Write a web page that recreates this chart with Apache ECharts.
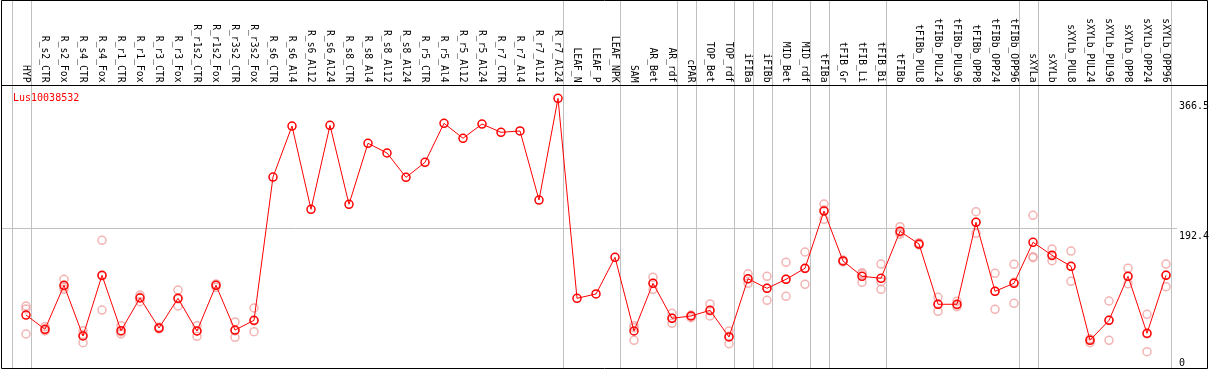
<!DOCTYPE html>
<html>
<head>
<meta charset="utf-8">
<script src="https://cdn.jsdelivr.net/npm/echarts@6/dist/echarts.min.js"></script>
<style>
html,body{margin:0;padding:0;background:#fff;}
#chart{width:1209px;height:370px;}
</style>
</head>
<body>
<div id="chart"></div>
<script>
const geneId = 'Lus10038532';
const categories = ['HYP','R_s2_CTR','R_s2_Fox','R_s4_CTR','R_s4_Fox','R_r1_CTR','R_r1_Fox','R_r3_CTR','R_r3_Fox','R_r1s2_CTR','R_r1s2_Fox','R_r3s2_CTR','R_r3s2_Fox','R_s6_CTR','R_s6_Al4','R_s6_Al12','R_s6_Al24','R_s8_CTR','R_s8_Al4','R_s8_Al12','R_s8_Al24','R_r5_CTR','R_r5_Al4','R_r5_Al12','R_r5_Al24','R_r7_CTR','R_r7_Al4','R_r7_Al12','R_r7_Al24','LEAF_N','LEAF_P','LEAF_NPK','SAM','AR_Bet','AR_rdf','cPAR','TOP_Bet','TOP_rdf','iFIBa','iFIBb','MID_Bet','MID_rdf','tFIBa','tFIB_Gr','tFIB_Li','tFIB_Bi','tFIBb','tFIBb_PUL8','tFIBb_PUL24','tFIBb_PUL96','tFIBb_OPP8','tFIBb_OPP24','tFIBb_OPP96','sXYLa','sXYLb','sXYLb_PUL8','sXYLb_PUL24','sXYLb_PUL96','sXYLb_OPP8','sXYLb_OPP24','sXYLb_OPP96'];

const meanValues = [76.3,57.2,116.1,48.2,129.5,55.3,99.1,58.9,98.7,54.9,116.1,56.2,69.2,261.1,329.4,217.9,330.4,224.6,306.3,293.3,260.7,280.8,333.1,313.0,332.1,321.0,322.8,230.3,366.5,98.7,104.5,153.6,54.9,118.8,71.9,75.0,82.6,46.9,124.9,112.1,124.1,138.9,215.6,148.7,128.2,125.5,188.4,171.4,90.7,90.7,200.5,108.1,118.8,173.7,156.3,141.6,42.5,69.2,128.2,51.8,129.5];

const rep1 = [88.4,60.7,124.1,55.3,176.4,62.0,103.1,60.3,109.8,62.0,117.9,67.0,85.7,null,null,null,null,null,null,null,null,null,null,null,null,null,null,null,null,null,null,null,62.0,126.8,78.6,72.7,91.1,54.9,131.6,128.2,146.9,160.7,225.0,150.0,133.0,144.6,194.6,173.2,100.0,94.7,214.7,132.2,144.2,209.9,164.7,162.0,39.2,95.1,138.9,77.3,144.6];
const rep2 = [84.4,56.2,110.8,39.2,83.0,50.9,94.1,57.6,88.4,47.8,113.4,46.5,54.0,null,null,null,null,null,null,null,null,null,null,null,null,null,null,null,null,null,null,null,42.5,110.8,65.2,76.3,75.0,37.9,118.8,96.0,101.4,117.5,204.5,147.3,120.1,120.9,184.4,170.8,81.3,87.5,185.7,84.0,92.0,154.4,149.1,121.5,44.6,42.5,118.3,27.2,114.2];
const rep3 = [50.9,54.9,113.8,50.2,128.6,53.6,100.4,58.9,97.8,54.9,116.5,54.9,68.3,null,null,null,null,null,null,null,null,null,null,null,null,null,null,null,null,null,null,null,59.3,118.8,72.3,75.0,81.7,47.8,124.5,112.1,124.1,138.3,217.0,148.7,131.2,110.8,186.6,170.1,91.1,89.7,200.9,108.1,120.1,153.1,155.4,141.3,42.5,69.6,127.9,50.9,129.9];

const yTickValues = [366.5, 192.4, 0];
const yTickLabels = ['366.5', '192.4', '0'];
const gridValue = 192.4;
// category indices after which a separator line is drawn (-1 = before the first)
const groupBreaks = [-1, 0, 28, 31, 34, 35, 37, 38, 39, 41, 42, 45, 52, 53, 60];

const MONO = '"DejaVu Sans Mono", "Liberation Mono", monospace';
const chart = echarts.init(document.getElementById('chart'), null, {renderer: 'canvas'});

const repStyle = {
  type: 'scatter', symbol: 'circle', symbolSize: 8, z: 2, silent: true,
  itemStyle: {color: 'rgba(0,0,0,0)', borderColor: '#f0a0a0', borderWidth: 1.5}
};

chart.setOption({
  animation: false,
  title: {
    text: geneId, left: 8, top: 88,
    textStyle: {color: '#ff0000', fontSize: 10, fontWeight: 'normal', fontFamily: MONO}
  },
  grid: {left: 16.5, right: 33.5, top: 85.5, bottom: 1.5, containLabel: false},
  xAxis: {
    type: 'category', data: categories, position: 'top', boundaryGap: true,
    axisLine: {show: false}, axisTick: {show: false}, splitLine: {show: false},
    axisLabel: {interval: 0, rotate: 90, margin: 3, color: '#000', fontSize: 9.7, fontFamily: MONO}
  },
  yAxis: {
    type: 'value', min: 4.69, max: 383.7,
    axisLine: {show: false}, axisTick: {show: false}, axisLabel: {show: false}, splitLine: {show: false}
  },
  series: [
    Object.assign({data: rep1}, repStyle),
    Object.assign({data: rep2}, repStyle),
    Object.assign({data: rep3}, repStyle),
    {
      type: 'line', data: meanValues, z: 5, symbol: 'circle', symbolSize: 8,
      lineStyle: {color: '#ff0000', width: 1},
      itemStyle: {color: 'rgba(0,0,0,0)', borderColor: '#ff0000', borderWidth: 1.5}
    }
  ]
});

function drawFrame() {
  const x0 = chart.convertToPixel({xAxisIndex: 0}, 0);
  const x1 = chart.convertToPixel({xAxisIndex: 0}, 1);
  const band = x1 - x0;
  const bottomY = 368.5, sepY = 85.5;
  const els = [];
  groupBreaks.forEach(function (i) {
    const x = Math.round(x0 + (i + 0.25) * band) + 0.5;
    els.push({type: 'line', z: 0, silent: true,
      shape: {x1: x, y1: 0, x2: x, y2: bottomY},
      style: {stroke: '#c0c0c0', lineWidth: 1}});
  });
  const gy = Math.round(chart.convertToPixel({yAxisIndex: 0}, gridValue)) + 0.5;
  els.push({type: 'line', z: 0, silent: true,
    shape: {x1: 1.5, y1: gy, x2: 1177, y2: gy},
    style: {stroke: '#c0c0c0', lineWidth: 1}});
  yTickValues.forEach(function (v, k) {
    let py = chart.convertToPixel({yAxisIndex: 0}, v) + 3;
    py = Math.min(py, bottomY - 10);
    els.push({type: 'text', z: 50, silent: true, x: 1179, y: py,
      style: {text: yTickLabels[k], align: 'left', verticalAlign: 'top',
        fill: '#000', fontSize: 10, fontFamily: MONO}});
  });
  els.push({type: 'rect', z: 100, silent: true,
    shape: {x: 1.5, y: 0.5, width: 1206, height: bottomY - 0.5},
    style: {fill: 'none', stroke: '#000', lineWidth: 1}});
  els.push({type: 'line', z: 100, silent: true,
    shape: {x1: 1.5, y1: sepY, x2: 1207.5, y2: sepY},
    style: {stroke: '#000', lineWidth: 1}});
  chart.setOption({graphic: {elements: els}});
}
drawFrame();
</script>
</body>
</html>
